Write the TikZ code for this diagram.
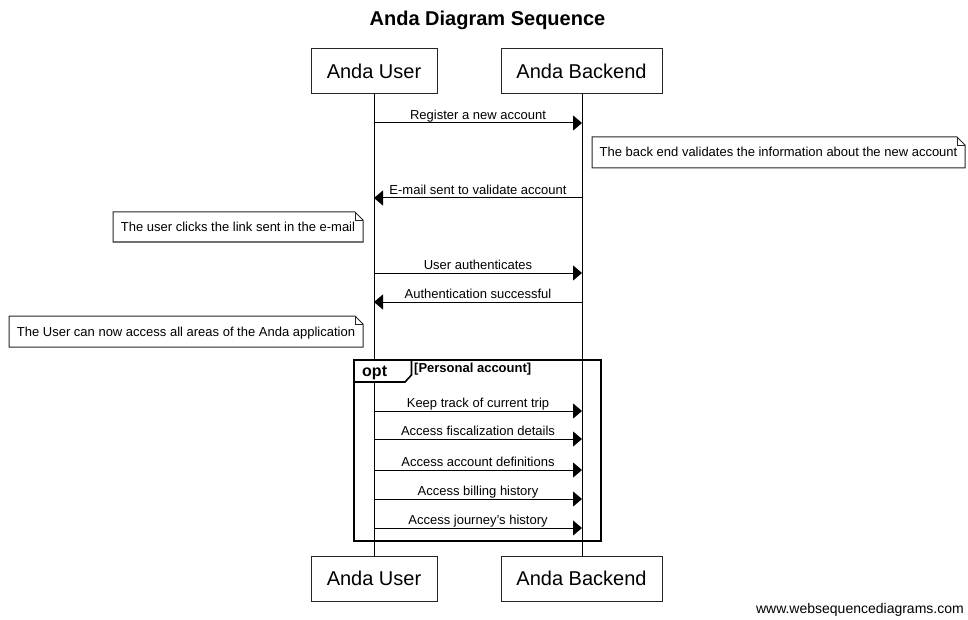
\documentclass[tikz,border=0pt]{standalone}
\usepackage{fontspec}
\setmainfont{Liberation Sans}
\usetikzlibrary{arrows.meta,calc}

\tikzset{
  actor/.style={draw=black!85, line width=1pt, minimum height=45pt,
    inner sep=0pt, font=\fontsize{20}{24}\selectfont},
  lifeline/.style={line width=1pt},
  msg/.style={line width=1pt, -{Triangle[length=9pt,width=15pt]}},
  lbl/.style={font=\fontsize{13}{15}\selectfont, inner sep=0pt,
    text depth=0pt, above=3pt},
  notetext/.style={font=\fontsize{13}{15}\selectfont, inner sep=0pt, anchor=base},
  noteframe/.style={draw=black!85, line width=1pt, fill=white},
  optframe/.style={draw=black, line width=2pt},
  opttab/.style={draw=black, line width=1.6pt, fill=white, line join=miter},
}

% note with a folded top-right corner: name, x1, y1, x2, y2, text
\newcommand\notebox[6]{%
  \draw[noteframe] (#2,#3) -- (#4-8,#3) -- (#4,#3+8) -- (#4,#5) -- (#2,#5) -- cycle;
  \draw[line width=0.8pt, draw=black!85] (#4-8,#3) -- (#4-8,#3+8) -- (#4,#3+8);
  \node[notetext] (#1) at ({(#2+#4)/2},{(#3+#5)/2+4.5}) {#6};%
}

\begin{document}
\begin{tikzpicture}[x=1pt,y=-1pt]
  \useasboundingbox (0,0) rectangle (968,620);

  % title
  \node[font=\fontsize{20}{24}\selectfont\bfseries, anchor=base, inner sep=0pt]
    (title) at (487.5,25.5) {Anda Diagram Sequence};

  % participants, top and bottom
  \node[actor, minimum width=126pt] (userTop) at (374,71.5) {Anda User};
  \node[actor, minimum width=161pt] (backTop) at (581.5,71.5) {Anda Backend};
  \node[actor, minimum width=126pt] (userBot) at (374,578.5) {Anda User};
  \node[actor, minimum width=161pt] (backBot) at (581.5,578.5) {Anda Backend};

  % lifelines
  \draw[lifeline] (userTop.south -| 374,0) -- (userBot.north -| 374,0);
  \draw[lifeline] (backTop.south -| 582,0) -- (backBot.north -| 582,0);

  % message end points on the lifelines
  \foreach \n/\y in {1/123,2/198,3/273,4/302,5/411,6/439,7/470,8/499,9/528}{
    \coordinate (u\n) at (374,\y);
    \coordinate (b\n) at (582,\y);
  }

  % messages
  \draw[msg] (u1) -- node[lbl] {Register a new account} (b1);
  \notebox{n1}{592}{137}{965}{168}{The back end validates the information about the new account}
  \draw[msg] (b2) -- node[lbl] {E-mail sent to validate account} (u2);
  \notebox{n2}{113}{212}{363}{242}{The user clicks the link sent in the e-mail}
  \draw[msg] (u3) -- node[lbl] {User authenticates} (b3);
  \draw[msg] (b4) -- node[lbl] {Authentication successful} (u4);
  \notebox{n3}{9}{316}{363}{347}{The User can now access all areas of the Anda application}

  % optional fragment
  \draw[optframe] (354,360) rectangle (601,541);
  \draw[opttab] (354,360) -- (411.5,360) -- (411.5,375) -- (405,382) -- (354,382) -- cycle;
  \node[font=\fontsize{16}{19}\selectfont\bfseries, anchor=base west, inner sep=0pt]
    (optlbl) at (362,376) {opt};
  \node[font=\fontsize{13}{15}\selectfont\bfseries, anchor=base west, inner sep=0pt]
    (guard) at (414,372.5) {[Personal account]};

  \draw[msg] (u5) -- node[lbl] {Keep track of current trip} (b5);
  \draw[msg] (u6) -- node[lbl] {Access fiscalization details} (b6);
  \draw[msg] (u7) -- node[lbl] {Access account definitions} (b7);
  \draw[msg] (u8) -- node[lbl] {Access billing history} (b8);
  \draw[msg] (u9) -- node[lbl] {Access journey's history} (b9);

  % footer
  \node[font=\fontsize{14}{17}\selectfont, anchor=base east, inner sep=0pt]
    (footer) at (964,613) {www.websequencediagrams.com};
\end{tikzpicture}
\end{document}
